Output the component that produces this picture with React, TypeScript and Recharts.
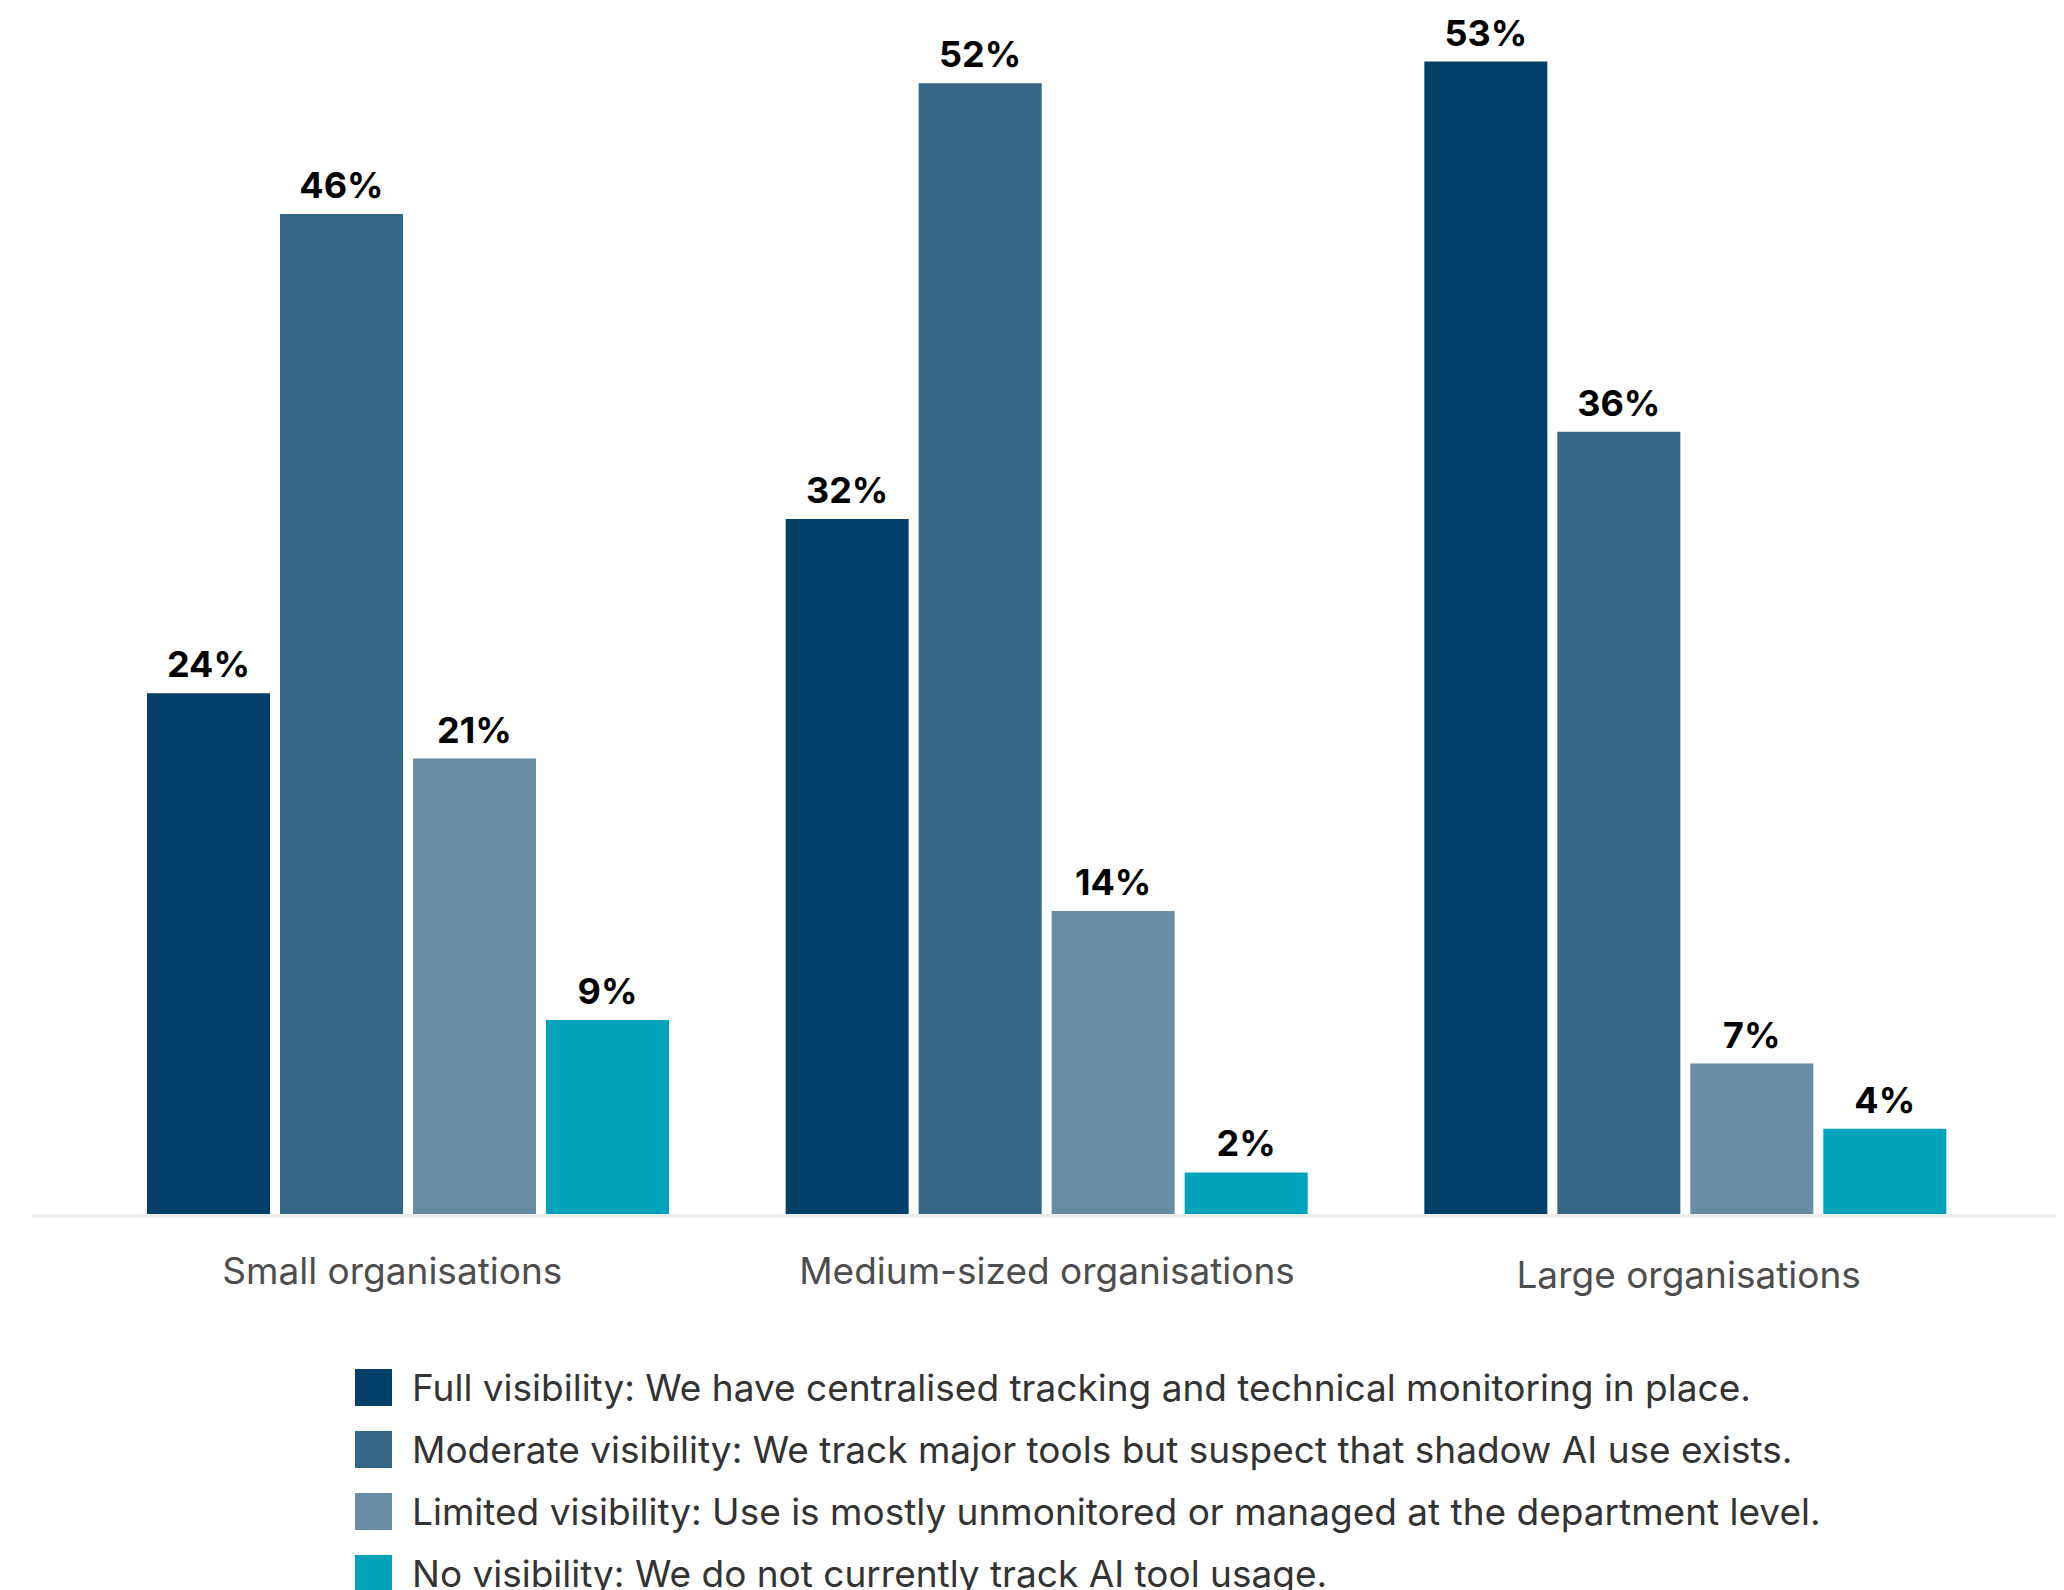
import React from "react";
import { BarChart, Bar, XAxis, YAxis, Legend, LabelList } from "recharts";

const categories = ["Small organisations", "Medium-sized organisations", "Large organisations"];
const fullVisibility = [24, 32, 53];
const moderateVisibility = [46, 52, 36];
const limitedVisibility = [21, 14, 7];
const noVisibility = [9, 2, 4];

const seriesNames = [
  "Full visibility: We have centralised tracking and technical monitoring in place.",
  "Moderate visibility: We track major tools but suspect that shadow AI use exists.",
  "Limited visibility: Use is mostly unmonitored or managed at the department level.",
  "No visibility: We do not currently track AI tool usage.",
];
const seriesKeys = ["full", "moderate", "limited", "none"];
const seriesColors = ["#023f68", "#346685", "#678ca3", "#00a3b9"];

const data = categories.map((c, i) => ({
  category: c,
  full: fullVisibility[i],
  moderate: moderateVisibility[i],
  limited: limitedVisibility[i],
  none: noVisibility[i],
}));

const FONT = "Inter, 'Noto Sans', sans-serif";
const TICK_DX = [-16, 0, 3];
const TICK_DY = [0, 0, 4];

const CategoryTick = (props: any) => {
  const { x, y, payload, index } = props;
  return (
    <text
      x={x + (TICK_DX[index] || 0)}
      y={y + (TICK_DY[index] || 0)}
      dy="0.71em"
      textAnchor="middle"
      fill="#4d4d4d"
      fontSize={37}
      fontFamily={FONT}
    >
      {payload.value}
    </text>
  );
};

const LegendContent = () => (
  <div style={{ fontFamily: FONT }}>
    {seriesNames.map((n, i) => (
      <div key={n} style={{ display: "flex", alignItems: "center", height: 62 }}>
        <div style={{ width: 37, height: 37, background: seriesColors[i], marginRight: 20, flex: "none" }} />
        <span style={{ fontSize: 37, color: "#333333", whiteSpace: "nowrap" }}>{n}</span>
      </div>
    ))}
  </div>
);

export default function App() {
  return (
    <div style={{ width: 2056, height: 1582, overflow: "hidden", background: "#fff" }}>
      <BarChart
        width={2056}
        height={1582}
        data={data}
        margin={{ top: 10, right: 0, left: 24, bottom: 314 }}
        barSize={123}
        barGap={10}
      >
        <XAxis
          dataKey="category"
          height={60}
          padding={{ left: 57, right: 59 }}
          axisLine={{ stroke: "#ececec", strokeWidth: 4 }}
          tickLine={false}
          tickSize={0}
          tickMargin={42}
          tick={<CategoryTick />}
          interval={0}
        />
        <YAxis hide domain={[0, 55]} />
        <Legend
          layout="horizontal"
          verticalAlign="middle"
          content={<LegendContent />}
          wrapperStyle={{ top: 1348, left: 347, width: 1700, height: 260 }}
        />
        {seriesKeys.map((k, i) => (
          <Bar key={k} dataKey={k} name={seriesNames[i]} fill={seriesColors[i]} isAnimationActive={false}>
            <LabelList
              dataKey={k}
              position="top"
              offset={16}
              formatter={(v: number) => `${v}%`}
              style={{ fill: "#000", fontSize: 36, fontWeight: 700, fontFamily: FONT }}
            />
          </Bar>
        ))}
      </BarChart>
    </div>
  );
}
